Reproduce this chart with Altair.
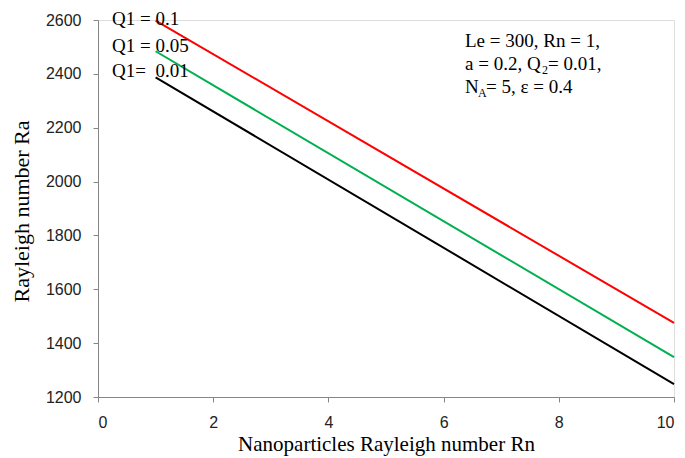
import altair as alt
import pandas as pd

rn = [1, 10]
q1_labels = ["Q1 = 0.1", "Q1 = 0.05", "Q1 = 0.01"]
ra_q01 = [2598, 1475]
ra_q005 = [2484, 1348]
ra_q001 = [2387, 1248]
colors = ["#FF0000", "#00B050", "#000000"]

rows = []
for lab, vals in zip(q1_labels, [ra_q01, ra_q005, ra_q001]):
    for x, y in zip(rn, vals):
        rows.append({"Rn": x, "Ra": y, "Q1": lab})
df = pd.DataFrame(rows)

serif = "Liberation Serif"
sans = "Liberation Sans"

lines = alt.Chart(df).mark_line(strokeWidth=2).encode(
    x=alt.X("Rn:Q", scale=alt.Scale(domain=[0, 10], nice=False),
            axis=alt.Axis(title="Nanoparticles Rayleigh number Rn", values=[0, 2, 4, 6, 8, 10],
                          format="d",
                          grid=False, domainColor="#868686", tickColor="#868686", tickSize=5,
                          labelFont=sans, labelFontSize=16, labelColor="#222222", labelPadding=12,
                          titleFont=serif, titleFontSize=21, titleFontWeight="normal",
                          titleColor="#000000", titleBaseline="alphabetic", titleY=53)),
    y=alt.Y("Ra:Q", scale=alt.Scale(domain=[1200, 2600], nice=False, zero=False),
            axis=alt.Axis(title="Rayleigh number Ra", values=[1200, 1400, 1600, 1800, 2000, 2200, 2400, 2600],
                          format="d",
                          grid=False, domainColor="#868686", tickColor="#868686", tickSize=5,
                          labelFont=sans, labelFontSize=16, labelColor="#222222", labelPadding=12,
                          titleFont=serif, titleFontSize=22, titleFontWeight="normal",
                          titleColor="#000000", titleAngle=270, titleBaseline="middle",
                          titleX=-77, titleY=191)),
    color=alt.Color("Q1:N", scale=alt.Scale(domain=q1_labels, range=colors), legend=None),
    detail="Q1:N",
)

def txt(s, x, y, size=19):
    return alt.Chart(pd.DataFrame({"t": [s]})).mark_text(
        align="left", baseline="middle", font=serif, fontSize=size, color="#000000"
    ).encode(x=alt.value(x), y=alt.value(y), text="t:N")

annotations = [
    txt("Q1 = 0.1", 14, -1),
    txt("Q1 = 0.05", 14, 26),
    txt("Q1=\u00a0 0.01", 14, 51),
    txt("Le = 300, Rn = 1,", 367, 21),
    txt("a = 0.2, Q", 367, 44),
    txt("2", 444, 50, 12),
    txt("= 0.01,", 450, 44),
    txt("N", 367, 67),
    txt("A", 380, 73, 12),
    txt("= 5, ε = 0.4", 388, 67),
]

chart = alt.layer(lines, *annotations).properties(
    width=576, height=377,
    autosize=alt.AutoSizeParams(type="none"),
    padding={"left": 90, "top": 12, "right": 3, "bottom": 60},
).configure_view(stroke=None).configure(background="white")

chart.save("out.html", embed_options={"renderer": "svg", "actions": False})
